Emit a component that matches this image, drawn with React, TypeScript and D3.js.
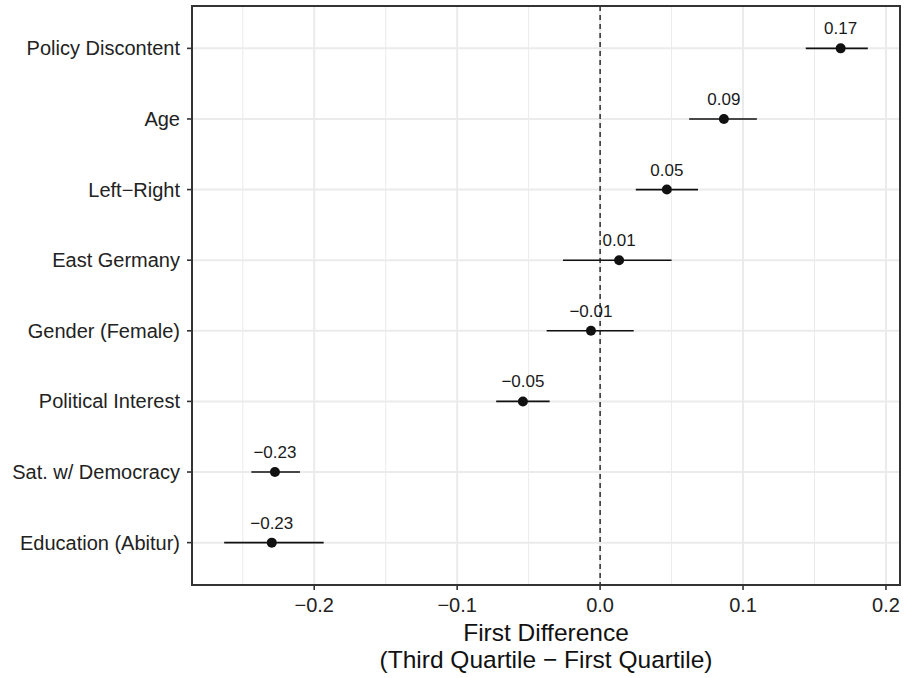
import React from "react";
import * as d3 from "d3";

const categories = [
  "Policy Discontent",
  "Age",
  "Left\u2212Right",
  "East Germany",
  "Gender (Female)",
  "Political Interest",
  "Sat. w/ Democracy",
  "Education (Abitur)",
];
const estimates = [0.1683, 0.0866, 0.0467, 0.0133, -0.0064, -0.054, -0.2275, -0.2297];
const lower = [0.1439, 0.0623, 0.025, -0.026, -0.0374, -0.0727, -0.244, -0.263];
const upper = [0.1873, 0.1097, 0.0685, 0.05, 0.0235, -0.0353, -0.21, -0.1934];
const xTicks = [-0.2, -0.1, 0.0, 0.1, 0.2];
const xMinor = [-0.25, -0.15, -0.05, 0.05, 0.15];

const W = 906;
const H = 678;
const panel = { left: 192, right: 900, top: 6, bottom: 585 };
const FONT = "'Liberation Sans', Arial, Helvetica, sans-serif";

export default function App() {
  const lo = d3.min(lower) as number;
  const hi = d3.max(upper) as number;
  const pad = (hi - lo) * 0.05;
  const x = d3.scaleLinear().domain([lo - pad, hi + pad]).range([panel.left, panel.right]);
  const n = categories.length;
  const unit = (panel.bottom - panel.top) / (n - 1 + 1.2);
  const y = (i: number) => panel.top + unit * (0.6 + i);
  const fmtTick = (v: number) => d3.format(".1f")(v).replace("-", "\u2212");
  const fmtLab = (v: number) => d3.format(".2f")(v).replace("-", "\u2212");
  const border = "#333";

  return (
    <div style={{ position: "absolute", left: 0, top: 0, width: W, height: H }}>
      <svg width={W} height={H} style={{ display: "block", background: "#fff" }} fontFamily={FONT}>
        <rect x={panel.left} y={panel.top} width={panel.right - panel.left} height={panel.bottom - panel.top} fill="#fff" />
        {xMinor.map((v) => (
          <line key={"mn" + v} x1={x(v)} x2={x(v)} y1={panel.top} y2={panel.bottom} stroke="#EBEBEB" strokeWidth={1} />
        ))}
        {xTicks.map((v) => (
          <line key={"mj" + v} x1={x(v)} x2={x(v)} y1={panel.top} y2={panel.bottom} stroke="#EBEBEB" strokeWidth={2} />
        ))}
        {categories.map((c, i) => (
          <line key={"gy" + c} x1={panel.left} x2={panel.right} y1={y(i)} y2={y(i)} stroke="#EBEBEB" strokeWidth={2} />
        ))}
        <line x1={x(0)} x2={x(0)} y1={panel.top} y2={panel.bottom} stroke="#111" strokeWidth={1.3} strokeDasharray="5,4" />
        {categories.map((c, i) => (
          <g key={"pt" + c}>
            <line x1={x(lower[i])} x2={x(upper[i])} y1={y(i)} y2={y(i)} stroke="#111" strokeWidth={1.6} />
            <circle cx={x(estimates[i])} cy={y(i)} r={5} fill="#111" />
            <text x={x(estimates[i])} y={y(i) - 14} textAnchor="middle" fontSize={17} fill="#1a1a1a">
              {fmtLab(estimates[i])}
            </text>
          </g>
        ))}
        <line x1={panel.left} x2={panel.right + 1} y1={panel.top} y2={panel.top} stroke={border} strokeWidth={2} />
        <line x1={panel.left} x2={panel.right + 1} y1={panel.bottom} y2={panel.bottom} stroke={border} strokeWidth={2} />
        <line x1={panel.left} x2={panel.left} y1={panel.top - 1} y2={panel.bottom + 1} stroke={border} strokeWidth={2} />
        <line x1={panel.right} x2={panel.right} y1={panel.top - 1} y2={panel.bottom + 1} stroke={border} strokeWidth={2} />
        {categories.map((c, i) => (
          <g key={"yl" + c}>
            <line x1={panel.left - 5} x2={panel.left} y1={y(i)} y2={y(i)} stroke={border} strokeWidth={1.6} />
            <text x={180} y={y(i)} dy="0.35em" textAnchor="end" fontSize={20} fill="#222">
              {c}
            </text>
          </g>
        ))}
        {xTicks.map((v) => (
          <g key={"xl" + v}>
            <line x1={x(v)} x2={x(v)} y1={panel.bottom} y2={panel.bottom + 5} stroke={border} strokeWidth={1.6} />
            <text x={x(v)} y={612} textAnchor="middle" fontSize={20} fill="#222">
              {fmtTick(v)}
            </text>
          </g>
        ))}
        <text x={(panel.left + panel.right) / 2} y={641} textAnchor="middle" fontSize={24.5} fill="#111">
          First Difference
        </text>
        <text x={(panel.left + panel.right) / 2} y={668} textAnchor="middle" fontSize={24.5} fill="#111">
          (Third Quartile {"\u2212"} First Quartile)
        </text>
      </svg>
    </div>
  );
}
